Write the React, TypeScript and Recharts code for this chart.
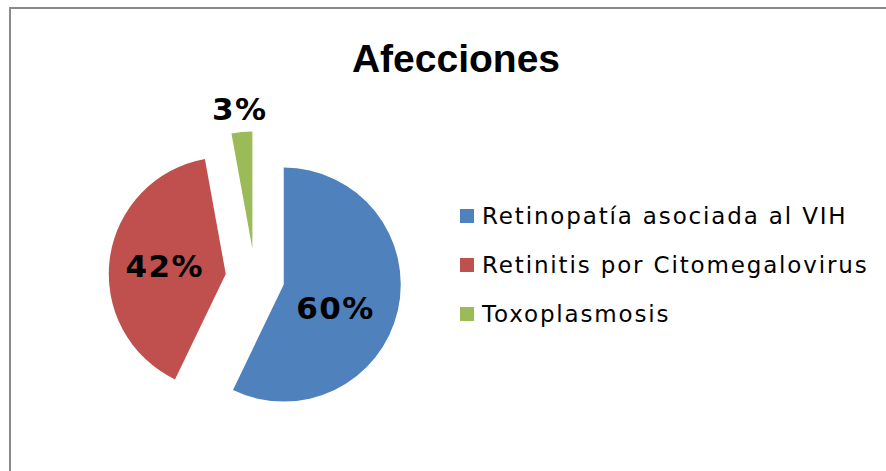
import React from 'react';
import { PieChart, Pie, Cell, Legend } from 'recharts';

const categories = ['Retinopatía asociada al VIH', 'Retinitis por Citomegalovirus', 'Toxoplasmosis'];
const values = [60, 42, 3];
const pctLabels = ['60%', '42%', '3%'];
const colors = ['#4F81BD', '#C0504D', '#9BBB59'];

const data = categories.map((name, i) => ({ name, value: values[i] }));

// layout constants
const W = 886;
const H = 471;
const BASE_CX = 255;
const BASE_CY = 278;
const RADIUS = 117;
const EXPLODE = 29.5;
const labelFactor = [0.48, 0.526, 1.197];
const labelTweak = [[-3, 11], [0, 0], [0, 0]];
const LABEL_FS = 31;

const total = values.reduce((a, b) => a + b, 0);
const offsets = values.map((v, i) => {
  const before = values.slice(0, i).reduce((a, b) => a + b, 0);
  const mid = ((before + v / 2) / total) * 2 * Math.PI; // clockwise from 12 o'clock
  return { dx: EXPLODE * Math.sin(mid), dy: -EXPLODE * Math.cos(mid) };
});

const RAD = Math.PI / 180;

const makeLabel = (own: number) => (props: any) => {
  const { cx, cy, midAngle, outerRadius, index } = props;
  if (index !== own) return null;
  const r = outerRadius * labelFactor[own];
  const x = cx + r * Math.cos(-midAngle * RAD) + labelTweak[own][0];
  const y = cy + r * Math.sin(-midAngle * RAD) + labelTweak[own][1];
  return (
    <text
      x={x}
      y={y + LABEL_FS * 0.36}
      textAnchor="middle"
      fill="#000"
      style={{ fontFamily: 'DejaVu Sans', fontWeight: 700, fontSize: LABEL_FS, letterSpacing: 1.5 }}
    >
      {pctLabels[own]}
    </text>
  );
};

const LegendContent = () => (
  <div style={{ fontFamily: 'DejaVu Sans', fontSize: 23, letterSpacing: 1.85, color: '#000' }}>
    {categories.map((c, i) => (
      <div key={c} style={{ display: 'flex', alignItems: 'center', height: 49 }}>
        <div style={{ width: 14, height: 14, background: colors[i], marginRight: 8 }} />
        <span style={{ whiteSpace: 'nowrap' }}>{c}</span>
      </div>
    ))}
  </div>
);

export default function App() {
  return (
    <div style={{ position: 'absolute', left: 0, top: 0, width: W, height: H, overflow: 'hidden', background: '#fff' }}>
      <div
        style={{
          position: 'absolute',
          left: 9,
          top: 7,
          width: 1000,
          height: 1000,
          borderLeft: '2px solid #8a8a8a',
          borderTop: '2px solid #8a8a8a',
        }}
      />
      <div
        style={{
          position: 'absolute',
          left: 0,
          width: 912,
          top: 39,
          textAlign: 'center',
          fontFamily: 'Liberation Sans',
          fontWeight: 700,
          fontSize: 39,
          lineHeight: '39px',
          color: '#000',
        }}
      >
        Afecciones
      </div>
      <div style={{ position: 'absolute', left: 0, top: 0 }}>
        <PieChart width={W} height={H} margin={{ top: 0, right: 0, bottom: 0, left: 0 }}>
          {categories.map((_, own) => (
            <Pie
              key={own}
              data={data}
              dataKey="value"
              nameKey="name"
              cx={BASE_CX + offsets[own].dx}
              cy={BASE_CY + offsets[own].dy}
              outerRadius={RADIUS}
              startAngle={90}
              endAngle={-270}
              stroke="none"
              isAnimationActive={false}
              labelLine={false}
              label={makeLabel(own)}
            >
              {data.map((d, j) => (
                <Cell key={d.name} fill={j === own ? colors[j] : 'none'} />
              ))}
            </Pie>
          ))}
          <Legend
            layout="vertical"
            content={<LegendContent />}
            wrapperStyle={{ position: 'absolute', left: 460, top: 191, width: 420 }}
          />
        </PieChart>
      </div>
    </div>
  );
}
